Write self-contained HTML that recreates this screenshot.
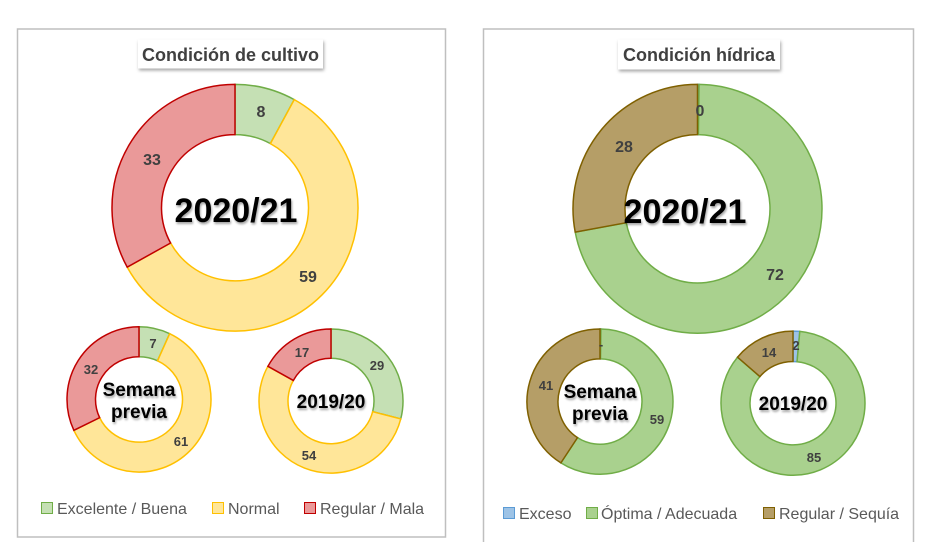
<!DOCTYPE html>
<html><head><meta charset="utf-8"><style>
body{margin:0;background:#fff;width:929px;height:558px;overflow:hidden;font-family:"Liberation Sans",sans-serif}
svg{position:absolute;left:0;top:0}
</style></head><body>
<svg id="s" width="929" height="558" xmlns="http://www.w3.org/2000/svg">
<defs><filter id="sh" x="-10%" y="-20%" width="130%" height="160%"><feDropShadow dx="1" dy="2" stdDeviation="1.5" flood-color="#000" flood-opacity="0.35"/></filter>
<filter id="ts" x="-10%" y="-10%" width="130%" height="140%"><feDropShadow dx="1" dy="2" stdDeviation="1" flood-color="#000" flood-opacity="0.35"/></filter></defs>
<rect x="17.5" y="29" width="428" height="508" fill="#fff" stroke="#bfbfbf" stroke-width="1.5"/>
<path d="M483.5 542 V29 H913.5 V542" fill="none" stroke="#bfbfbf" stroke-width="1.5"/>
<rect x="138" y="39.5" width="185" height="29" fill="#fff" filter="url(#sh)"/>
<text x="230.5" y="61" text-anchor="middle" font-size="18" font-weight="bold" fill="#404040">Condición de cultivo</text>
<rect x="618" y="39.5" width="162" height="30" fill="#fff" filter="url(#sh)"/>
<text x="699" y="61" text-anchor="middle" font-size="18" font-weight="bold" fill="#404040">Condición hídrica</text>
<g id="d"></g>
<g font-weight="bold" fill="#404040" font-size="16" text-anchor="middle">
<text x="261" y="117">8</text><text x="152" y="165">33</text><text x="308" y="282">59</text>
<text x="700" y="116">0</text><text x="624" y="152">28</text><text x="775" y="280">72</text>
</g>
<g font-weight="bold" fill="#404040" font-size="13" text-anchor="middle">
<text x="153" y="348">7</text><text x="91" y="374">32</text><text x="181" y="446">61</text>
<text x="302" y="357">17</text><text x="377" y="370">29</text><text x="309" y="460">54</text>
<text x="546" y="390">41</text><text x="657" y="424">59</text><text x="601" y="349">-</text>
<text x="769" y="357">14</text><text x="796" y="350">2</text><text x="814" y="462">85</text>
</g>
<g font-weight="bold" fill="#000" text-anchor="middle" filter="url(#ts)">
<text x="236" y="222" font-size="34">2020/21</text>
<text x="685" y="223" font-size="34">2020/21</text>
<text x="139" y="396" font-size="19">Semana</text><text x="139" y="418" font-size="19">previa</text>
<text x="331" y="408" font-size="19">2019/20</text>
<text x="600" y="398" font-size="19">Semana</text><text x="600" y="420" font-size="19">previa</text>
<text x="793" y="410" font-size="19">2019/20</text>
</g>
<g font-size="16" fill="#595959">
<rect x="41.5" y="502.5" width="11" height="11" fill="#c5e0b4" stroke="#70ad47"/><text x="57" y="514">Excelente / Buena</text>
<rect x="212.5" y="502.5" width="11" height="11" fill="#ffe699" stroke="#ffc000"/><text x="228" y="514">Normal</text>
<rect x="304.5" y="502.5" width="11" height="11" fill="#ea9999" stroke="#c00000"/><text x="320" y="514">Regular / Mala</text>
<rect x="503.5" y="507.5" width="11" height="11" fill="#9dc3e6" stroke="#5b9bd5"/><text x="519" y="519">Exceso</text>
<rect x="586.5" y="507.5" width="11" height="11" fill="#a9d18e" stroke="#70ad47"/><text x="601" y="519">Óptima / Adecuada</text>
<rect x="763.5" y="507.5" width="11" height="11" fill="#b59e67" stroke="#7f6000"/><text x="779" y="519">Regular / Sequía</text>
</g>
</svg>
<script>
var G=["#c5e0b4","#70ad47"],Y=["#ffe699","#ffc000"],R=["#ea9999","#c00000"],B=["#9dc3e6","#5b9bd5"],GG=["#a9d18e","#70ad47"],BR=["#b59e67","#7f6000"];
var f=1.068;
var donuts=[
[235,194.5,123,115.5,73.5,68.5,[[8,G],[59,Y],[33,R]]],
[139,374,72,68,43.5,40,[[7,G],[61,Y],[32,R]]],
[331,375.5,72,67.5,43,40,[[29,G],[54,Y],[17,R]]],
[697.5,195.5,124.5,116.5,72.5,69.5,[[0.2,B],[71.8,GG],[28,BR]]],
[600,376,73,68,42,40,[[0.2,B],[58.8,GG],[41,BR]]],
[793,377.5,72,67.5,43,39,[[1.5,B],[84.5,GG],[14,BR]]]];
var h="";
function pt(cx,cy,rx,ry,a){return (cx+rx*Math.sin(a)).toFixed(2)+" "+(cy-ry*Math.cos(a)).toFixed(2);}
donuts.forEach(function(d){var cx=d[0],cy=d[1]*f,rx=d[2],ry=d[3]*f,ix=d[4],iy=d[5]*f,tot=0;d[6].forEach(function(s){tot+=s[0]});
var a=0;d[6].forEach(function(s){var b=a+s[0]/tot*2*Math.PI;var lg=(b-a)>Math.PI?1:0;
h+='<path d="M'+pt(cx,cy,rx,ry,a)+' A'+rx+' '+ry+' 0 '+lg+' 1 '+pt(cx,cy,rx,ry,b)+' L'+pt(cx,cy,ix,iy,b)+' A'+ix+' '+iy+' 0 '+lg+' 0 '+pt(cx,cy,ix,iy,a)+' Z" fill="'+s[1][0]+'" stroke="'+s[1][1]+'" stroke-width="1.5"/>';a=b;});});
document.getElementById("d").innerHTML=h;
</script>
</body></html>
